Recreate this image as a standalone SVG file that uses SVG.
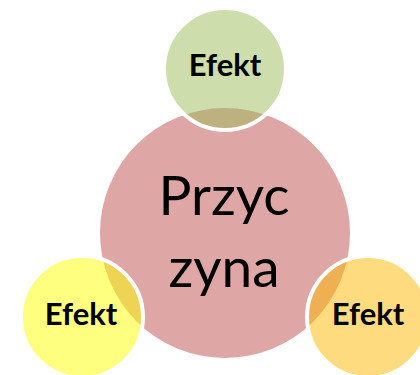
<svg xmlns="http://www.w3.org/2000/svg" width="420" height="375" viewBox="0 0 420 375">
  <style>
    .sat { stroke: #FFFFFF; stroke-width: 4; fill-opacity: 0.5; }
    .lbl { font-family: Lato, "Open Sans", "Liberation Sans", sans-serif; font-weight: bold; font-size: 31px; fill: #000000; text-anchor: middle; }
    .main { font-family: Lato, "Open Sans", "Liberation Sans", sans-serif; font-size: 55px; fill: #000000; text-anchor: middle; }
  </style>
  <rect width="420" height="375" fill="#FFFFFF"/>
  <g id="connectors"></g>
  <g id="przyczyna">
    <circle cx="225" cy="233" r="125" fill="#DFA6A6"/>
    <text class="main" x="224" y="215">Przyc</text>
    <text class="main" x="224" y="287">zyna</text>
  </g>
  <g id="efekt-top">
    <circle class="sat" cx="225" cy="69" r="61" fill="#9BBB59"/>
    <text class="lbl" x="225" y="76">Efekt</text>
  </g>
  <g id="efekt-left">
    <circle class="sat" cx="82" cy="317" r="61" fill="#FFFF00"/>
    <text class="lbl" x="81" y="325">Efekt</text>
  </g>
  <g id="efekt-right">
    <circle class="sat" cx="368" cy="317" r="61" fill="#FFB800"/>
    <text class="lbl" x="368" y="325">Efekt</text>
  </g>
</svg>
